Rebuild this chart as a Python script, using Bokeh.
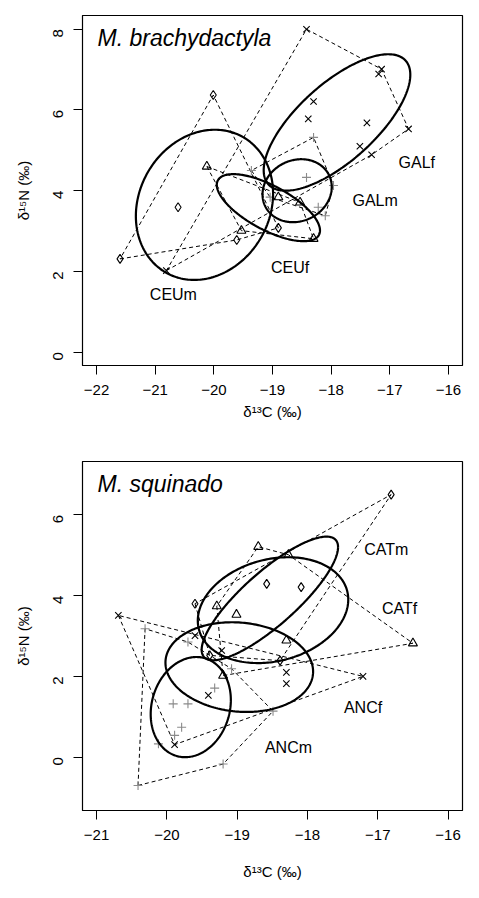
import math
import numpy as np
from bokeh.plotting import figure
from bokeh.layouts import column
from bokeh.models import Range1d, FixedTicker
from bokeh.core.properties import value
from bokeh.embed import file_html
from bokeh.resources import INLINE

FONT = "Liberation Sans"

# ---------------- Panel 1: M. brachydactyla ----------------
ceum_x = [-20.01, -20.61, -21.60, -19.61, -18.90]
ceum_y = [6.37, 3.59, 2.31, 2.78, 3.08]
ceuf_x = [-20.12, -18.90, -18.53, -18.30, -19.53]
ceuf_y = [4.60, 3.84, 3.71, 2.81, 3.01]
galm_x = [-19.36, -18.30, -18.42, -17.96, -18.22, -18.10, -19.04]
galm_y = [4.50, 5.32, 4.33, 4.13, 3.59, 3.38, 3.84]
galf_x = [-18.42, -17.14, -17.19, -18.30, -18.39, -17.39, -16.68, -17.51, -17.31, -20.81]
galf_y = [8.00, 7.01, 6.89, 6.21, 5.78, 5.68, 5.53, 5.10, 4.89, 2.02]

# ellipse params: cx, cy, sx, sy, rho
ell1_names = ["CEUm", "GALf", "GALm", "CEUf"]
ell1_cx = [-20.16, -17.90, -18.58, -19.07]
ell1_cy = [3.65, 5.69, 4.00, 3.58]
ell1_sx = [1.17, 1.25, 0.59, 0.88]
ell1_sy = [1.86, 1.69, 0.78, 0.83]
ell1_rho = [0.15, 0.70, 0.12, -0.68]

lab1_text = ["GALf", "GALm", "CEUf", "CEUm"]
lab1_x = [-16.54, -17.25, -18.70, -20.69]
lab1_y = [4.70, 3.75, 2.10, 1.44]

x1_ticks = [-22, -21, -20, -19, -18, -17, -16]
y1_ticks = [0, 2, 4, 6, 8]

# ---------------- Panel 2: M. squinado ----------------
catm_x = [-16.81, -18.58, -18.09, -19.60, -18.39, -19.39]
catm_y = [6.50, 4.29, 4.21, 3.80, 2.39, 2.52]
catf_x = [-18.70, -18.27, -19.29, -19.01, -16.50, -18.30, -19.20]
catf_y = [5.21, 5.01, 3.74, 3.53, 2.82, 2.89, 2.02]
ancf_x = [-20.69, -19.60, -19.22, -19.41, -19.89, -18.30, -18.30, -17.21]
ancf_y = [3.51, 3.01, 2.64, 1.53, 0.31, 2.10, 1.82, 2.00]
ancm_x = [-20.31, -19.70, -19.32, -19.91, -19.70, -19.79, -19.89, -20.12, -20.41, -19.20, -19.08, -18.49]
ancm_y = [3.18, 2.85, 1.71, 1.32, 1.32, 0.74, 0.54, 0.33, -0.70, -0.17, 2.19, 1.14]

ell2_names = ["CATm", "CATf", "ANCf", "ANCm"]
ell2_cx = [-18.535, -18.49, -18.97, -19.66]
ell2_cy = [3.93, 3.64, 2.23, 1.24]
ell2_sx = [0.97, 1.07, 1.05, 0.57]
ell2_sy = [1.53, 1.31, 1.11, 1.24]
ell2_rho = [0.83, 0.20, -0.10, 0.14]

lab2_text = ["CATm", "CATf", "ANCf", "ANCm"]
lab2_x = [-16.88, -16.69, -17.21, -18.27]
lab2_y = [5.13, 3.67, 1.24, 0.23]

x2_ticks = [-21, -20, -19, -18, -17, -16]
y2_ticks = [0, 2, 4, 6]


def hull(xs, ys):
    pts = sorted(set(zip(xs, ys)))
    if len(pts) < 3:
        return pts

    def cross(o, a, b):
        return (a[0] - o[0]) * (b[1] - o[1]) - (a[1] - o[1]) * (b[0] - o[0])

    lower, upper = [], []
    for p in pts:
        while len(lower) >= 2 and cross(lower[-2], lower[-1], p) <= 0:
            lower.pop()
        lower.append(p)
    for p in reversed(pts):
        while len(upper) >= 2 and cross(upper[-2], upper[-1], p) <= 0:
            upper.pop()
        upper.append(p)
    h = lower[:-1] + upper[:-1]
    return h + [h[0]]


def ellipse_pts(cx, cy, sx, sy, rho):
    t = np.linspace(0, 2 * np.pi, 240)
    ex = cx + sx * np.cos(t)
    ey = cy + sy * (rho * np.cos(t) + math.sqrt(1 - rho * rho) * np.sin(t))
    return ex, ey


def make_fig(xr, yr, xt, yt, h, frame_h, top, title, groups, ells, labs, xlab_standoff):
    left, right = 82, 10
    p = figure(width=left + 380 + right, height=h, output_backend="svg",
               toolbar_location=None,
               x_range=Range1d(*xr), y_range=Range1d(*yr),
               min_border_left=left, min_border_right=right, min_border_top=top,
               min_border_bottom=h - top - frame_h)
    p.grid.visible = False
    p.background_fill_color = "white"
    p.outline_line_color = "black"
    p.outline_line_width = 1.2
    for ax in (p.xaxis[0], p.yaxis[0]):
        ax.axis_line_color = "black"
        ax.major_tick_line_color = "black"
        ax.minor_tick_line_color = None
        ax.major_tick_out = 9
        ax.major_tick_in = 0
        ax.major_label_text_font = FONT
        ax.major_label_text_font_size = "15px"
        ax.major_label_text_color = "black"
        ax.axis_label_text_font = FONT
        ax.axis_label_text_font_size = "15px"
        ax.axis_label_text_font_style = "normal"
        ax.axis_label_text_color = "black"
    p.xaxis.ticker = FixedTicker(ticks=xt)
    p.yaxis.ticker = FixedTicker(ticks=yt)
    p.yaxis.major_label_orientation = math.pi / 2
    p.xaxis.major_label_standoff = 10
    p.yaxis.major_label_standoff = 15
    p.xaxis.axis_label = "δ¹³C (‰)"
    p.yaxis.axis_label = "δ¹⁵N (‰)"
    p.xaxis.axis_label_standoff = xlab_standoff
    p.yaxis.axis_label_standoff = 14

    for (gx, gy, marker, color) in groups:
        hp = hull(gx, gy)
        p.line([q[0] for q in hp], [q[1] for q in hp], line_color="black",
               line_dash="4 3", line_width=1)
    for (gx, gy, marker, color) in groups:
        p.scatter(gx, gy, marker=marker, size=9, fill_color=None,
                  line_color=color, line_width=1.1)
    for (cx, cy, sx, sy, rho) in ells:
        ex, ey = ellipse_pts(cx, cy, sx, sy, rho)
        p.line(ex, ey, line_color="black", line_width=2.2)
    tx, ty, tt = labs
    p.text(tx, ty, text=tt, text_font=value(FONT), text_font_size="16px",
           text_align="center", text_baseline="middle", text_color="black")
    p.text([xr[0]], [yr[1]], text=[title], text_font=value(FONT),
           text_font_size="23px", text_font_style="italic", text_color="black",
           x_offset=15, y_offset=22, text_baseline="middle")
    return p


g1 = [(ceum_x, ceum_y, "diamond", "black"),
      (ceuf_x, ceuf_y, "triangle", "black"),
      (galm_x, galm_y, "cross", "#8a8a8a"),
      (galf_x, galf_y, "x", "black")]
e1 = list(zip(ell1_cx, ell1_cy, ell1_sx, ell1_sy, ell1_rho))
p1 = make_fig((-22.24, -15.76), (-0.33, 8.34), x1_ticks, y1_ticks,
              450, 350, 15, "M. brachydactyla", g1, e1, (lab1_x, lab1_y, lab1_text), 5)

g2 = [(catm_x, catm_y, "diamond", "black"),
      (catf_x, catf_y, "triangle", "black"),
      (ancf_x, ancf_y, "x", "black"),
      (ancm_x, ancm_y, "cross", "#8a8a8a")]
e2 = list(zip(ell2_cx, ell2_cy, ell2_sx, ell2_sy, ell2_rho))
p2 = make_fig((-21.2, -15.795), (-1.32, 7.32), x2_ticks, y2_ticks,
              438, 349, 11, "M. squinado", g2, e2, (lab2_x, lab2_y, lab2_text), 20)

layout = column(p1, p2, spacing=0)
open("out.html", "w").write(file_html(layout, INLINE))
